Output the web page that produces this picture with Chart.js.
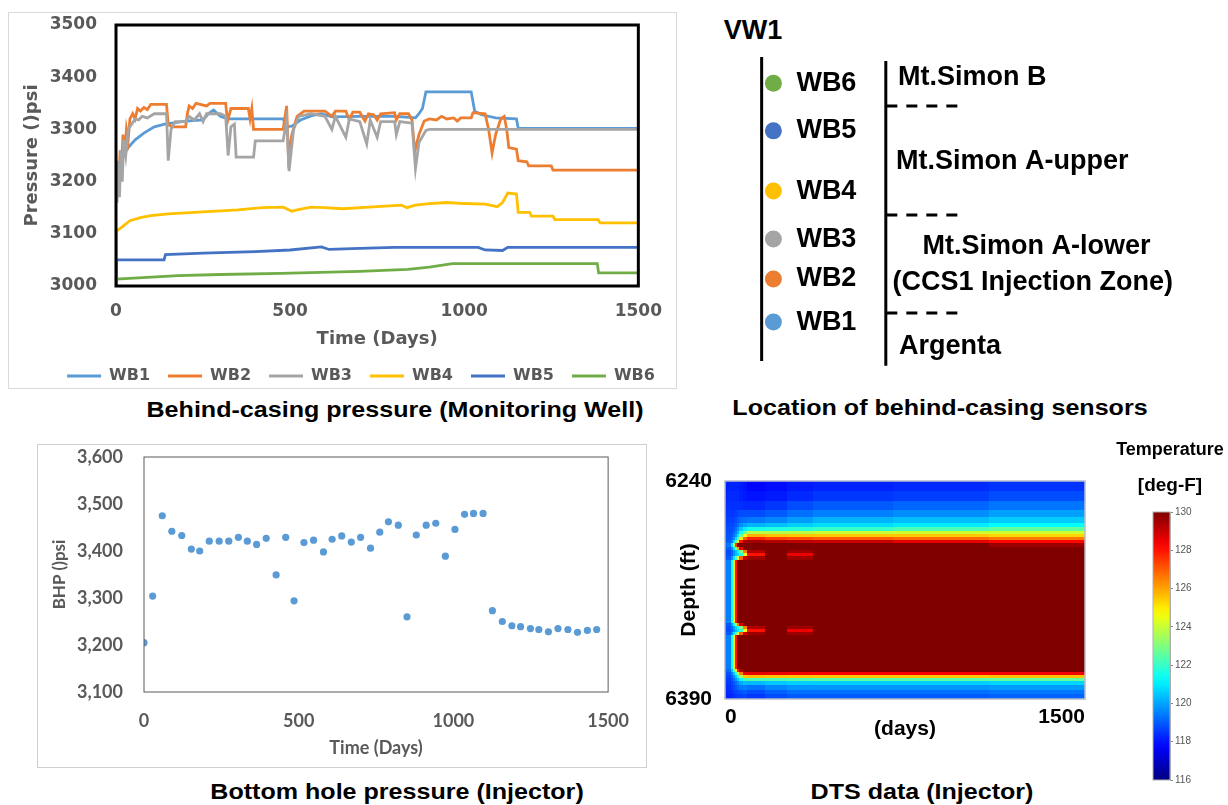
<!DOCTYPE html>
<html>
<head>
<meta charset="utf-8">
<title>CCS1 monitoring</title>
<script src="https://cdn.jsdelivr.net/npm/chart.js@4.4.1/dist/chart.umd.min.js"></script>
<style>
  body { margin: 0; background: #fff; font-family: "Liberation Sans", Arial, sans-serif; }
  #page { position: relative; width: 1228px; height: 805px; overflow: hidden; }
  .pane { position: absolute; }
  .panel-border { position: absolute; border: 1px solid #d9d9d9; box-sizing: border-box; }
  .label { position: absolute; transform: translate(-50%, -50%); white-space: nowrap; font-weight: bold; color: #000; }
  .caption { font-size: 22px; transform: translate(-50%, -50%) scaleX(1.14); }
</style>
</head>
<body>
<div id="page">
  <div class="panel-border" style="left:8px;top:12px;width:669px;height:377px"></div>
  <div class="pane" style="left:8px;top:12px;width:669px;height:382px"><canvas id="pressureChart"></canvas></div>
  <div class="label caption" style="left:395px;top:410px">Behind-casing pressure (Monitoring Well)</div>

  <div class="label" style="left:753px;top:30px;font-size:27px">VW1</div>
  <div class="pane" style="left:700px;top:0;width:528px;height:395px"><canvas id="sensorChart"></canvas></div>
  <div class="label caption" style="left:940px;top:408px">Location of behind-casing sensors</div>

  <div class="panel-border" style="left:37px;top:444px;width:610px;height:324px;border-color:#d0d0d0"></div>
  <div class="pane" style="left:37px;top:444px;width:610px;height:315px"><canvas id="bhpChart"></canvas></div>
  <div class="label caption" style="left:397px;top:792px">Bottom hole pressure (Injector)</div>

  <div class="pane" style="left:650px;top:430px;width:470px;height:312px"><canvas id="dtsChart"></canvas></div>
  <div class="label" style="left:1170px;top:449px;font-size:18px">Temperature</div>
  <div class="label" style="left:1170px;top:485px;font-size:19px">[deg-F]</div>
  <div class="pane" style="left:1140px;top:500px;width:88px;height:292px"><canvas id="colorbarChart"></canvas></div>
  <div class="label caption" style="left:922px;top:792px">DTS data (Injector)</div>
</div>

<script>
// ---- behind-casing pressure (monitoring well)
const wbNames = ['WB1', 'WB2', 'WB3', 'WB4', 'WB5', 'WB6'];
const wbColors = ['#5B9BD5', '#ED7D31', '#A5A5A5', '#FFC000', '#4472C4', '#70AD47'];

const wb1Days = [0, 1, 8, 20, 35, 55, 80, 110, 140, 170, 200, 250, 265, 280, 300, 320, 480, 490, 505, 530, 560, 590, 620, 700, 800, 860, 870, 880, 890, 1020, 1030, 1050, 1090, 1150, 1155, 1500];
const wb1Psi = [3200, 3220, 3232, 3250, 3265, 3280, 3293, 3305, 3310, 3313, 3316, 3318, 3330, 3337, 3325, 3320, 3320, 3305, 3306, 3318, 3326, 3330, 3324, 3325, 3325, 3322, 3330, 3340, 3372, 3372, 3335, 3328, 3322, 3320, 3302, 3302];

const wb2Days = [0, 3, 8, 12, 16, 20, 25, 30, 35, 40, 48, 55, 62, 70, 80, 90, 100, 145, 150, 160, 200, 205, 210, 220, 230, 260, 270, 315, 320, 330, 380, 385, 390, 395, 480, 490, 495, 505, 520, 540, 600, 620, 630, 660, 670, 680, 700, 715, 725, 740, 750, 760, 800, 805, 815, 840, 850, 858, 870, 885, 900, 920, 935, 950, 970, 980, 990, 1020, 1025, 1060, 1070, 1080, 1090, 1105, 1115, 1122, 1128, 1150, 1155, 1180, 1185, 1250, 1255, 1500];
const wb2Psi = [3180, 3230, 3200, 3260, 3220, 3290, 3250, 3300, 3280, 3320, 3330, 3320, 3340, 3335, 3342, 3338, 3348, 3348, 3310, 3305, 3305, 3330, 3345, 3340, 3350, 3345, 3350, 3350, 3315, 3340, 3340, 3320, 3340, 3300, 3300, 3345, 3250, 3290, 3325, 3335, 3335, 3325, 3335, 3335, 3318, 3333, 3333, 3316, 3330, 3328, 3318, 3330, 3332, 3318, 3330, 3330, 3318, 3258, 3290, 3316, 3320, 3318, 3325, 3320, 3322, 3316, 3322, 3322, 3332, 3330, 3300, 3255, 3290, 3320, 3325, 3300, 3265, 3262, 3240, 3238, 3230, 3230, 3222, 3222];

const wb3Days = [0, 3, 6, 10, 14, 18, 22, 28, 35, 45, 55, 65, 75, 90, 110, 145, 150, 158, 170, 200, 210, 225, 240, 250, 260, 300, 315, 322, 330, 340, 345, 395, 400, 480, 490, 497, 510, 525, 560, 600, 620, 630, 660, 670, 700, 720, 730, 750, 760, 800, 805, 815, 850, 860, 870, 890, 900, 1500];
const wb3Psi = [3180, 3160, 3240, 3170, 3260, 3200, 3280, 3250, 3300, 3310, 3320, 3318, 3325, 3322, 3330, 3330, 3240, 3300, 3315, 3315, 3325, 3318, 3330, 3315, 3330, 3330, 3325, 3250, 3305, 3310, 3247, 3247, 3278, 3278, 3320, 3220, 3300, 3325, 3330, 3325, 3300, 3325, 3285, 3320, 3315, 3272, 3318, 3285, 3315, 3315, 3290, 3315, 3312, 3225, 3275, 3298, 3300, 3300];

const wb4Days = [0, 1, 15, 40, 70, 100, 150, 250, 350, 420, 480, 505, 520, 560, 600, 650, 750, 820, 835, 860, 900, 950, 1000, 1060, 1095, 1110, 1125, 1150, 1155, 1188, 1193, 1255, 1260, 1385, 1390, 1500];
const wb4Psi = [3040, 3105, 3112, 3125, 3131, 3135, 3138, 3142, 3146, 3150, 3151, 3143, 3146, 3151, 3150, 3148, 3152, 3155, 3150, 3155, 3158, 3160, 3158, 3157, 3152, 3160, 3178, 3176, 3141, 3141, 3134, 3134, 3127, 3127, 3121, 3121];

const wb5Days = [0, 1, 138, 142, 250, 400, 500, 590, 612, 700, 800, 1040, 1060, 1110, 1125, 1500];
const wb5Psi = [3000, 3050, 3050, 3060, 3063, 3066, 3069, 3075, 3070, 3072, 3074, 3074, 3069, 3068, 3074, 3074];

const wb6Days = [0, 1, 178, 300, 474, 700, 838, 900, 966, 1382, 1386, 1500];
const wb6Psi = [3000, 3013, 3020, 3022, 3024, 3028, 3032, 3036, 3043, 3043, 3025, 3025];

const timeTicks = [0, 500, 1000, 1500];
const pressureTicks = [3000, 3100, 3200, 3300, 3400, 3500];

// ---- sensor location sketch (relative depth, 0 = top of well line, 100 = bottom)
const sensorNames = ['WB6', 'WB5', 'WB4', 'WB3', 'WB2', 'WB1'];
const sensorColors = ['#70AD47', '#4472C4', '#FFC000', '#A5A5A5', '#ED7D31', '#5B9BD5'];
const sensorDepths = [8.6, 24.3, 44.1, 59.9, 73.0, 87.2];
const zoneNames = ['Mt.Simon B', 'Mt.Simon A-upper', 'Mt.Simon A-lower', '(CCS1 Injection Zone)', 'Argenta'];
const zoneLabelDepths = [6.6, 34.5, 62.2, 74.3, 95.1];
const zoneLabelX = [37.1, 36.7, 41.9, 36.0, 37.3];
const zoneBoundaries = [16.1, 52.0, 84.2];

// ---- bottom hole pressure (injector)
const bhpDays = [0, 28, 59, 90, 122, 153, 180, 211, 243, 274, 305, 334, 364, 395, 427, 458, 485, 517, 548, 580, 608, 639, 670, 700, 732, 762, 790, 822, 850, 880, 912, 943, 974, 1005, 1036, 1065, 1096, 1126, 1158, 1189, 1217, 1249, 1276, 1307, 1338, 1370, 1401, 1433, 1463];
const bhpPsi = [3205, 3304, 3475, 3442, 3433, 3404, 3400, 3421, 3421, 3421, 3429, 3421, 3414, 3427, 3349, 3429, 3294, 3418, 3423, 3398, 3425, 3432, 3419, 3429, 3406, 3440, 3462, 3455, 3260, 3434, 3455, 3459, 3389, 3446, 3478, 3480, 3480, 3273, 3250, 3241, 3239, 3235, 3233, 3228, 3235, 3233, 3227, 3231, 3233];
const bhpTicks = [3100, 3200, 3300, 3400, 3500, 3600];

// ---- DTS temperature (injector): cell edges in days and feet, temperatures in deg-F
const dtsDays = [0, 8, 28, 36, 44, 52, 60, 75, 95, 170, 260, 370, 700, 1100, 1500];
const dtsDepths = [6240, 6247, 6254, 6260, 6265, 6269, 6272, 6275, 6277, 6279, 6281, 6283, 6286, 6288, 6290, 6292, 6295, 6338, 6340, 6342, 6344, 6346, 6370, 6372, 6374, 6376, 6378, 6381, 6384, 6387, 6390];
const dtsTemps = [
  [118, 118.2, 118.2, 118.2, 118.2, 118.2, 118.1, 118, 117.8, 117.9, 118.1, 118.2, 118.3, 118.45],
  [118, 118.3, 118.3, 118.3, 118.3, 118.3, 118.2, 118.1, 118, 118.1, 118.3, 118.5, 118.6, 118.8],
  [118, 118.4, 118.4, 118.4, 118.4, 118.4, 118.4, 118.3, 118.3, 118.5, 118.8, 119, 119.15, 119.35],
  [118, 118.5, 118.5, 118.5, 118.6, 118.7, 118.8, 118.8, 118.8, 119, 119.3, 119.5, 119.7, 119.95],
  [118, 118.6, 118.6, 118.7, 118.8, 119, 119.2, 119.3, 119.4, 119.6, 119.9, 120.2, 120.35, 120.55],
  [118, 118.7, 118.7, 118.8, 119, 119.3, 119.7, 120, 120.2, 120.4, 120.6, 120.8, 121, 121.25],
  [118, 118.8, 118.8, 119, 119.3, 119.8, 120.5, 121, 121.6, 121.7, 121.8, 122, 122.3, 122.6],
  [118, 118.8, 118.9, 119.2, 119.6, 120.3, 121.5, 122.8, 123.8, 123.7, 123.8, 124, 124.1, 124.1],
  [118, 118.9, 119, 119.4, 120, 121, 122.8, 124.8, 125.8, 125.6, 125.5, 125.5, 125.5, 125.3],
  [118, 118.9, 119.2, 119.8, 120.8, 122.5, 125, 127, 127.8, 127.4, 127.2, 127, 126.8, 126.6],
  [118, 119, 119.6, 120.8, 122.5, 125, 128, 129.4, 129.5, 129.3, 129.2, 129, 128.6, 128.2],
  [118, 119.4, 121, 124, 127.5, 130, 130, 130, 130, 130, 130, 130, 130, 129.6],
  [118, 119, 119.8, 121, 123, 126, 128.5, 130, 130, 130, 130, 130, 130, 130],
  [118, 118.8, 119.2, 119.8, 120.5, 121.2, 123, 126.5, 129.3, 130, 129.6, 130, 130, 130],
  [118, 118.8, 119.2, 119.8, 120.3, 120.8, 121.8, 124.5, 128, 130, 128.5, 130, 130, 130],
  [118, 119, 119.8, 121, 122.5, 124.5, 127, 129, 129.6, 130, 129.6, 130, 130, 130],
  [118, 119.5, 121.5, 125, 128, 130, 130, 130, 130, 130, 130, 130, 130, 130],
  [118, 119, 120, 121.5, 123.5, 126.5, 128.8, 130, 130, 130, 130, 130, 130, 130],
  [118, 118.8, 119.3, 120, 120.8, 121.5, 123, 126.5, 129.3, 130, 129.6, 130, 130, 130],
  [118, 118.8, 119.2, 119.8, 120.4, 121, 122, 124.8, 128, 130, 128.5, 130, 130, 130],
  [118, 119, 119.8, 121, 122.5, 124.5, 127, 129, 129.6, 130, 129.6, 130, 130, 130],
  [118, 119.5, 121.5, 125, 128, 130, 130, 130, 130, 130, 130, 130, 130, 130],
  [118, 119.2, 120.5, 122.5, 125, 128, 129.5, 130, 130, 130, 130, 130, 130, 130],
  [118, 118.9, 119.6, 120.6, 122, 124, 126.5, 128.5, 128.6, 128.5, 128.4, 128.3, 128.3, 128.4],
  [118, 118.7, 119.2, 119.8, 120.6, 121.8, 123.5, 125.5, 125.6, 125.5, 125.5, 125.5, 125.5, 125.6],
  [118, 118.6, 118.9, 119.3, 119.8, 120.5, 121.3, 122.2, 122.3, 122.3, 122.4, 122.5, 122.5, 122.6],
  [118, 118.5, 118.7, 119, 119.3, 119.7, 120.1, 120.4, 120.3, 120.5, 120.6, 120.6, 120.6, 120.7],
  [118, 118.4, 118.6, 118.8, 119, 119.2, 119.4, 119.5, 119.3, 119.6, 119.8, 119.8, 119.8, 119.9],
  [118, 118.3, 118.4, 118.6, 118.7, 118.8, 118.9, 119, 118.8, 119.1, 119.3, 119.3, 119.3, 119.4],
  [118, 118.2, 118.3, 118.4, 118.5, 118.6, 118.6, 118.7, 118.5, 118.8, 119, 119, 119, 119.1]
];
const dtsDayTicks = [0, 1500];
const dtsDepthTicks = [6240, 6390];
const tempTicks = [116, 118, 120, 122, 124, 126, 128, 130];
const tempMin = 116, tempMax = 130;

Chart.defaults.animation = false;
Chart.defaults.font.family = '"Liberation Sans", Arial, sans-serif';
Chart.defaults.plugins.tooltip.enabled = false;

const greyText = '#595959';
const dvBold = size => ({family: '"DejaVu Sans", sans-serif', size: size, weight: 'bold'});
const latoBold = size => ({family: 'Lato, sans-serif', size: size, weight: 'bold'});
const arialBold = size => ({family: '"Liberation Sans", Arial, sans-serif', size: size, weight: 'bold'});
const fixedTicks = values => scale => { scale.ticks = values.map(v => ({value: v})); };

// jet colormap, same as the colour bar
function jet(temp) {
  const v = Math.min(1, Math.max(0, (temp - tempMin) / (tempMax - tempMin)));
  const c = k => Math.round(255 * Math.min(1, Math.max(0, 1.5 - Math.abs(4 * v - k))));
  return 'rgb(' + c(3) + ',' + c(2) + ',' + c(1) + ')';
}

const plotFrame = (color, width) => ({
  id: 'plotFrame',
  afterDatasetsDraw(chart) {
    const {ctx, chartArea: a} = chart;
    ctx.save();
    ctx.strokeStyle = color;
    ctx.lineWidth = width;
    ctx.strokeRect(a.left, a.top, a.right - a.left, a.bottom - a.top);
    ctx.restore();
  }
});

// legend sits a bit right of centre in the original
const legendShift = dx => ({
  id: 'legendShift',
  afterLayout(chart) {
    chart.legend.left += dx;
    chart.legend.right += dx;
  }
});

new Chart(document.getElementById('pressureChart'), {
  type: 'line',
  data: {
    datasets: wbNames.map((name, i) => ({
      label: name,
      data: [wb1Days, wb2Days, wb3Days, wb4Days, wb5Days, wb6Days][i].map((d, k) => ({x: d, y: [wb1Psi, wb2Psi, wb3Psi, wb4Psi, wb5Psi, wb6Psi][i][k]})),
      borderColor: wbColors[i],
      backgroundColor: wbColors[i],
      borderWidth: 2.8,
      pointRadius: 0,
      tension: 0,
      order: wbNames.length - i
    }))
  },
  options: {
    responsive: true,
    maintainAspectRatio: false,
    layout: {padding: {top: 13, right: 33}},
    scales: {
      x: {
        type: 'linear', min: 0, max: 1500,
        afterBuildTicks: fixedTicks(timeTicks),
        afterFit: s => { s.height = 64; },
        grid: {display: false, drawTicks: false},
        border: {display: false},
        ticks: {padding: 15, color: greyText, font: dvBold(17), maxRotation: 0, callback: v => String(v)},
        title: {display: true, text: 'Time (Days)', color: greyText, font: dvBold(18), padding: 0}
      },
      y: {
        min: 3000, max: 3500,
        afterBuildTicks: fixedTicks(pressureTicks),
        afterFit: s => { s.width = 108; },
        // hidden tick marks give the gap between labels and frame
        grid: {display: false, drawTicks: true, tickLength: 19},
        border: {display: false},
        ticks: {padding: 0, color: greyText, font: dvBold(17), callback: v => String(v)},
        title: {display: true, text: 'Pressure ()psi', color: greyText, font: dvBold(18), padding: {top: 14, bottom: 0}}
      }
    },
    plugins: {
      legend: {
        position: 'bottom',
        labels: {
          usePointStyle: true, pointStyle: 'line', pointStyleWidth: 34, padding: 18,
          color: greyText, font: dvBold(16),
          sort: (a, b) => a.datasetIndex - b.datasetIndex
        }
      }
    }
  },
  plugins: [plotFrame('#000', 3), legendShift(35)]
});

// sensor sketch: dots and lines through the chart scales, names drawn at the same positions
const wellX = 10.4, sensorX = 12.7, sensorLabelX = 17.2, zoneLineX = 34.7;
const sensorText = {
  id: 'sensorText',
  afterDatasetsDraw(chart) {
    const {ctx, scales: {x, y}} = chart;
    ctx.save();
    ctx.font = 'bold 27px "Liberation Sans", Arial, sans-serif';
    ctx.fillStyle = '#000';
    ctx.textBaseline = 'middle';
    sensorNames.forEach((n, i) => ctx.fillText(n, x.getPixelForValue(sensorLabelX), y.getPixelForValue(sensorDepths[i])));
    zoneNames.forEach((n, i) => ctx.fillText(n, x.getPixelForValue(zoneLabelX[i]), y.getPixelForValue(zoneLabelDepths[i])));
    ctx.restore();
  }
};

new Chart(document.getElementById('sensorChart'), {
  type: 'scatter',
  data: {
    datasets: [
      {data: sensorDepths.map(d => ({x: sensorX, y: d})), backgroundColor: sensorColors, pointRadius: 8.5, pointBorderWidth: 0},
      {type: 'line', data: [{x: wellX, y: 0}, {x: wellX, y: 100}], borderColor: '#000', borderWidth: 3, pointRadius: 0, clip: false},
      {type: 'line', data: [{x: zoneLineX, y: 1.3}, {x: zoneLineX, y: 101.6}], borderColor: '#000', borderWidth: 3, pointRadius: 0, clip: false}
    ].concat(zoneBoundaries.map(b => ({
      type: 'line', data: [{x: 34.8, y: b}, {x: 48.7, y: b}],
      borderColor: '#000', borderWidth: 3, borderDash: [11, 9], pointRadius: 0
    })))
  },
  options: {
    responsive: true,
    maintainAspectRatio: false,
    layout: {padding: {top: 57, bottom: 34}},
    scales: {
      x: {display: false, min: 0, max: 100},
      y: {display: false, min: 0, max: 100, reverse: true}
    },
    plugins: {legend: {display: false}}
  },
  plugins: [sensorText]
});

new Chart(document.getElementById('bhpChart'), {
  type: 'scatter',
  data: {
    datasets: [{
      data: bhpDays.map((d, i) => ({x: d, y: bhpPsi[i]})),
      backgroundColor: '#5B9BD5', pointRadius: 3.6, pointBorderWidth: 0
    }]
  },
  options: {
    responsive: true,
    maintainAspectRatio: false,
    layout: {padding: {top: 13, right: 25}},
    scales: {
      x: {
        min: 0, max: 1500,
        afterBuildTicks: fixedTicks(timeTicks),
        afterFit: s => { s.height = 67; },
        grid: {display: false, drawTicks: false},
        border: {display: false},
        ticks: {padding: 18, color: greyText, font: latoBold(18), maxRotation: 0, callback: v => String(v)},
        title: {display: true, text: 'Time (Days)', color: greyText, font: latoBold(18), padding: 0}
      },
      y: {
        min: 3100, max: 3600,
        afterBuildTicks: fixedTicks(bhpTicks),
        afterFit: s => { s.width = 107; },
        grid: {display: false, drawTicks: true, tickLength: 21},
        border: {display: false},
        ticks: {padding: 0, color: greyText, font: latoBold(18), callback: v => v.toLocaleString('en-US')},
        title: {display: true, text: 'BHP ()psi', color: greyText, font: latoBold(17), padding: {top: 12, bottom: 0}}
      }
    },
    plugins: {legend: {display: false}}
  },
  plugins: [plotFrame('#595959', 1)]
});

// heatmap cells placed with the chart's own x (days) and y (depth) scales
const heatCells = {
  id: 'heatCells',
  beforeDatasetsDraw(chart) {
    const {ctx, scales: {x, y}} = chart;
    ctx.save();
    dtsTemps.forEach((row, r) => {
      const y0 = Math.floor(y.getPixelForValue(dtsDepths[r]));
      const y1 = Math.ceil(y.getPixelForValue(dtsDepths[r + 1]));
      row.forEach((t, c) => {
        const x0 = Math.floor(x.getPixelForValue(dtsDays[c]));
        const x1 = Math.ceil(x.getPixelForValue(dtsDays[c + 1]));
        ctx.fillStyle = jet(t);
        ctx.fillRect(x0, y0, x1 - x0, y1 - y0);
      });
    });
    ctx.restore();
  }
};

new Chart(document.getElementById('dtsChart'), {
  type: 'scatter',
  data: {datasets: [{data: []}]},
  options: {
    responsive: true,
    maintainAspectRatio: false,
    layout: {padding: {top: 51, right: 35}},
    scales: {
      x: {
        min: 0, max: 1500,
        afterBuildTicks: fixedTicks(dtsDayTicks),
        afterFit: s => { s.height = 43; },
        grid: {display: false, drawTicks: false},
        border: {display: false},
        ticks: {align: 'inner', padding: 6, color: '#000', font: arialBold(21), maxRotation: 0, callback: v => String(v)},
        title: {display: true, text: '(days)', color: '#000', font: arialBold(21), padding: 0}
      },
      y: {
        min: 6240, max: 6390, reverse: true,
        afterBuildTicks: fixedTicks(dtsDepthTicks),
        afterFit: s => { s.width = 75; },
        grid: {display: false, drawTicks: false},
        border: {display: false},
        ticks: {padding: 13, color: '#000', font: arialBold(21), callback: v => String(v)},
        title: {display: true, text: 'Depth (ft)', color: '#000', font: arialBold(21), padding: {top: 27, bottom: 0}}
      }
    },
    plugins: {legend: {display: false}}
  },
  plugins: [heatCells, plotFrame('#b8bccb', 1.5)]
});

function colorbarFill(chart) {
  if (!chart.chartArea) return jet(tempMin);
  const y = chart.scales.y;
  const g = chart.ctx.createLinearGradient(0, y.getPixelForValue(tempMin), 0, y.getPixelForValue(tempMax));
  for (let t = tempMin; t <= tempMax; t += 0.5) {
    g.addColorStop((t - tempMin) / (tempMax - tempMin), jet(t));
  }
  return g;
}

new Chart(document.getElementById('colorbarChart'), {
  type: 'bar',
  data: {
    labels: [''],
    datasets: [{
      data: [[tempMin, tempMax]],
      backgroundColor: ctx => colorbarFill(ctx.chart),
      barPercentage: 1, categoryPercentage: 1, borderWidth: 0
    }]
  },
  options: {
    responsive: true,
    maintainAspectRatio: false,
    layout: {padding: {left: 13, top: 12, bottom: 12}},
    scales: {
      x: {display: false},
      y: {
        position: 'right', min: tempMin, max: tempMax,
        afterBuildTicks: fixedTicks(tempTicks),
        afterFit: s => { s.width = 58; },
        grid: {drawOnChartArea: false, tickLength: 3, color: '#888'},
        border: {color: '#aaa'},
        ticks: {padding: 2, color: '#555', font: {size: 10}}
      }
    },
    plugins: {legend: {display: false}}
  },
  plugins: [plotFrame('#b0b0b0', 1)]
});
</script>
</body>
</html>
